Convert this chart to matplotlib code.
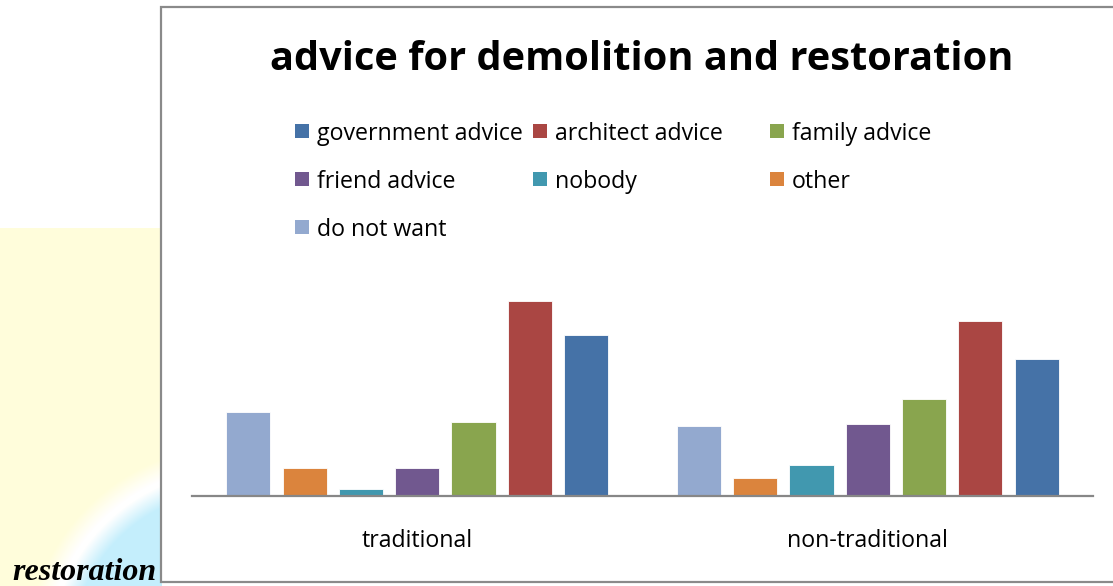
import numpy as np
import matplotlib
matplotlib.use("Agg")
import matplotlib.pyplot as plt
from matplotlib.patches import Rectangle

# ---- data -------------------------------------------------------------
groups = ["traditional", "non-traditional"]
series = ["government advice", "architect advice", "family advice",
          "friend advice", "nobody", "other", "do not want"]
colors = ["#4572A7", "#AA4643", "#89A54E", "#71588F", "#4198AF",
          "#DB843D", "#93A9CF"]
# share of answers per group (%), one list per series
government = [27.7, 23.7]
architect = [33.6, 30.2]
family = [12.7, 16.8]
friend = [4.9, 12.4]
nobody = [1.2, 5.3]
other = [4.9, 3.1]
do_not_want = [14.4, 12.1]
values = [government, architect, family, friend, nobody, other, do_not_want]

title = "advice for demolition and restoration"
side_label = "restoration"

# ---- figure ------------------------------------------------------------
W, H = 1113, 586
fig = plt.figure(figsize=(W / 100, H / 100), dpi=100)
fig.patch.set_facecolor("white")


def px_box(x0, y0, x1, y1):
    """Figure-fraction rectangle from pixel corners (top-left origin)."""
    return [x0 / W, 1 - y1 / H, (x1 - x0) / W, (y1 - y0) / H]


# slide background strip on the left: pale yellow with a light-blue swoosh
bg = fig.add_axes(px_box(0, 228, 162, 586), zorder=-3)
bg.set_axis_off()
yy, xx = np.mgrid[228:586, 0:162]
r = np.hypot(xx - 235, yy - 655)
yellow = np.array([255, 253, 219]) / 255
white = np.array([255, 255, 255]) / 255
cyan = np.array([196, 238, 252]) / 255
t_white = np.clip((r - 165) / 20, 0, 1)          # 0 inside -> 1 outside
t_yellow = np.clip((r - 190) / 20, 0, 1)
inner = cyan[None, None, :] * (1 - t_white[..., None]) + white * t_white[..., None]
img = inner * (1 - t_yellow[..., None]) + yellow * t_yellow[..., None]
bg.imshow(img, extent=[0, 1, 0, 1], aspect="auto", interpolation="bilinear")
bg.set_xlim(0, 1)
bg.set_ylim(0, 1)

fig.text(156 / W, 1 - 580 / H, side_label, ha="right", va="baseline",
         fontsize=23, fontweight="bold", fontstyle="italic",
         family="Liberation Serif", color="black")

# chart frame
frame = Rectangle((161 / W, 1 - 582 / H), (W + 10 - 161) / W, (582 - 7) / H,
                  transform=fig.transFigure, facecolor="white",
                  edgecolor="#8a8a8a", linewidth=1.6, zorder=-2)
fig.patches.append(frame)

font = "Open Sans"

# title
fig.text(642 / W, 1 - 59 / H, title, ha="center", va="center",
         fontsize=28.6, fontweight="bold", family=font, color="black")

# legend laid out in three equal-width columns, row-major order
col_x = [295, 533, 770]
row_y = [131, 179, 227]
sq = 14
for i, (name, col) in enumerate(zip(series, colors)):
    cx = col_x[i % 3]
    cy = row_y[i // 3]
    fig.patches.append(Rectangle((cx / W, 1 - (cy + sq / 2) / H), sq / W, sq / H,
                                 transform=fig.transFigure, facecolor=col,
                                 edgecolor="none", zorder=2))
    fig.text((cx + 22) / W, 1 - cy / H, name, ha="left", va="center_baseline",
             fontsize=16.7, family=font, color="black")

# ---- bars ----------------------------------------------------------------
ax = fig.add_axes(px_box(192, 264, 1093, 496), zorder=1)
ax.set_facecolor("none")
px_per_unit = 5.8
ax.set_ylim(0, 232 / px_per_unit)
ax.set_xlim(-0.5, len(groups) - 0.5)

x = np.arange(len(groups))
slot = 1 / 8
n = len(series)
# drawn left to right in reverse legend order
for j, k in enumerate(range(n - 1, -1, -1)):
    offset = (j - (n - 1) / 2) * slot
    ax.bar(x + offset, values[k], width=0.098, color=colors[k],
           edgecolor="white", linewidth=0.6, zorder=2)

for side in ("left", "right", "top"):
    ax.spines[side].set_visible(False)
ax.spines["bottom"].set_color("#878787")
ax.spines["bottom"].set_linewidth(1.6)
ax.spines["bottom"].set_zorder(3)
ax.set_yticks([])
ax.set_xticks(x)
ax.set_xticklabels(groups, fontsize=16.7, family=font, color="black")
ax.tick_params(axis="x", length=0, pad=24)

fig.savefig("out.png", dpi=100)
